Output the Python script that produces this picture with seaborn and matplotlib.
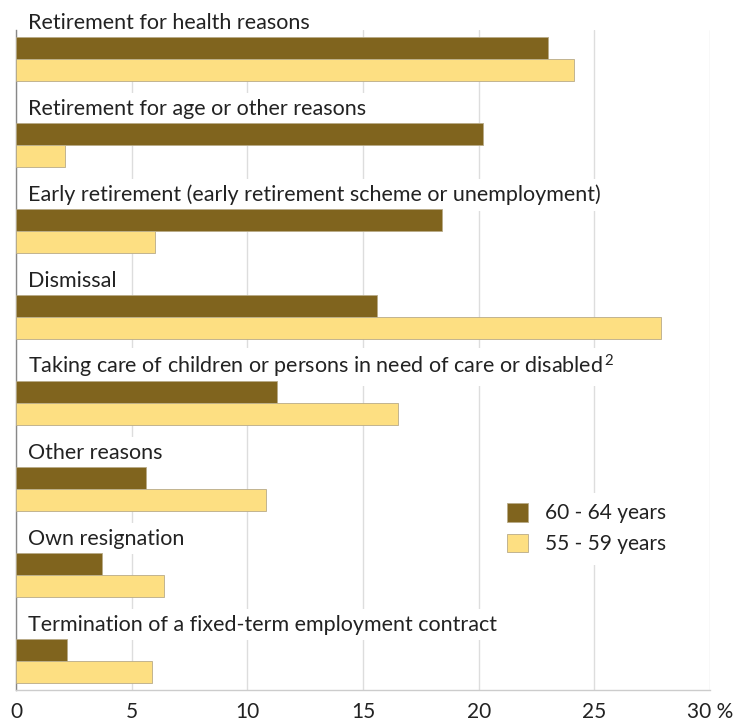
import matplotlib
matplotlib.use("Agg")
import matplotlib.pyplot as plt
import seaborn as sns
import pandas as pd

categories = [
    "Retirement for health reasons",
    "Retirement for age or other reasons",
    "Early retirement (early retirement scheme or unemployment)",
    "Dismissal",
    "Taking care of children or persons in need of care or disabled$^{\\,2}$",
    "Other reasons",
    "Own resignation",
    "Termination of a fixed-term employment contract",
]
age_60_64 = [23.0, 20.2, 18.4, 15.6, 11.3, 5.6, 3.7, 2.2]
age_55_59 = [24.1, 2.1, 6.0, 27.9, 16.5, 10.8, 6.4, 5.9]
series_names = ["60 - 64 years", "55 - 59 years"]
tick_values = [0, 5, 10, 15, 20, 25, 30]
tick_labels = ["0", "5", "10", "15", "20", "25", "30 %"]

colors = ["#80641E", "#FDDF82"]

df = pd.DataFrame({
    "reason": categories * 2,
    "share": age_60_64 + age_55_59,
    "group": [series_names[0]] * len(categories) + [series_names[1]] * len(categories),
})

sns.set_theme(style="white")
plt.rcParams["font.family"] = ["Lato", "DejaVu Sans"]
plt.rcParams["mathtext.fontset"] = "custom"
plt.rcParams["mathtext.rm"] = "Lato"
plt.rcParams["mathtext.it"] = "Lato:italic"

fig = plt.figure(figsize=(7.49, 7.26), dpi=100)
W, H = 749, 726
ax = fig.add_axes([16 / W, 1 - 690 / H, (710 - 16) / W, (690 - 30) / H])

sns.barplot(data=df, y="reason", x="share", hue="group", order=categories,
            hue_order=series_names, palette=colors, orient="h", width=0.512,
            edgecolor="#b8ab88", linewidth=0.6, saturation=1, ax=ax, zorder=3,
            legend=True)

ax.set_xlim(0, 30)
ax.set_ylim(len(categories) - 1 + 0.337, -0.337)
ax.set_xticks(tick_values)
ax.set_xticklabels(tick_labels, fontsize=15, color="#222222")
ax.set_yticks([])
ax.set_xlabel("")
ax.set_ylabel("")

ax.grid(axis="x", color="#dddddd", linewidth=1.0, zorder=0)
ax.set_axisbelow(True)
ax.tick_params(axis="x", length=6, color="#dddddd", pad=3)

for side in ["top", "right"]:
    ax.spines[side].set_visible(False)
ax.spines["left"].set_color("#888888")
ax.spines["left"].set_linewidth(1.0)
ax.spines["bottom"].set_color("#cccccc")
ax.spines["bottom"].set_linewidth(1.0)

for i, name in enumerate(categories):
    ax.text(0.5, i - 0.42, name, ha="left", va="center", fontsize=15.5,
            color="#222222", zorder=2, clip_on=False,
            bbox=dict(facecolor="white", edgecolor="none", pad=4))

leg = ax.legend(loc="upper left", bbox_to_anchor=(0.678, 0.315), frameon=True,
                fontsize=15, handlelength=1.0, handleheight=1.0,
                handletextpad=0.8, labelspacing=0.5, borderpad=0.5)
leg.get_frame().set_facecolor("white")
leg.get_frame().set_edgecolor("none")
leg.get_frame().set_alpha(1)
for t in leg.get_texts():
    t.set_color("#222222")

fig.savefig("out.png", dpi=100, facecolor="white")
